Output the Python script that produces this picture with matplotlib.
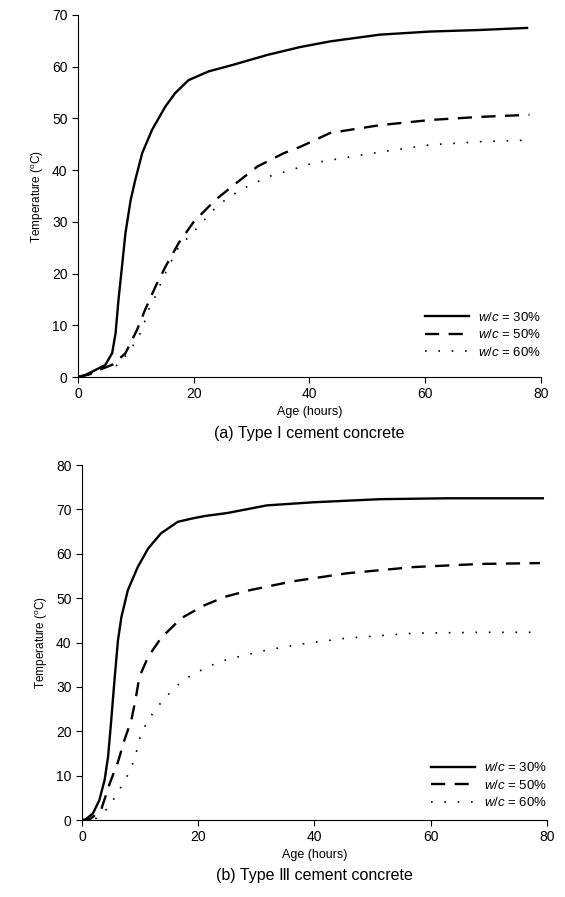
import matplotlib
matplotlib.use("Agg")
from matplotlib import pyplot as plt

plt.rcParams['font.family'] = ['Liberation Sans', 'DejaVu Sans']
plt.rcParams['mathtext.fontset'] = 'custom'
plt.rcParams['mathtext.it'] = 'Liberation Sans:italic'
plt.rcParams['mathtext.rm'] = 'Liberation Sans'

# (a) Type I cement concrete
a_x30 = [0, 1.3, 4.7, 5.9, 6.5, 7.0, 7.6, 8.2, 9.1, 9.9, 11.1, 12.8, 15.1, 16.8, 19.1, 22.6, 26.6,
         32.8, 38.4, 43.6, 52.2, 60.9, 69.5, 77.6]
a_y30 = [0, 0.4, 2.3, 4.6, 8.5, 14.9, 21.3, 27.8, 34.2, 38.1, 43.3, 47.8, 52.3, 54.9, 57.4, 59.1, 60.3,
         62.3, 63.8, 64.9, 66.2, 66.8, 67.1, 67.5]
a_x50 = [0, 2, 4.2, 6, 8.2, 10.2, 11.6, 13.4, 15.1, 17.4, 20, 23.7, 26.9, 31, 35.6, 38.4, 43.6,
         52.2, 60.9, 69.5, 78]
a_y50 = [0, 0.5, 1.6, 2.4, 4.6, 9.1, 13, 17.5, 21.3, 25.9, 30, 34.2, 37.1, 40.7, 43.3, 44.5, 47.2,
         48.7, 49.7, 50.3, 50.7]
a_x60 = [0, 2, 4, 7, 8.8, 10.2, 11.3, 11.9, 13.1, 14.8, 17.1, 19.1, 21.1, 23.1, 25.4, 28.1, 32.8,
         37.3, 40.7, 52.2, 60.9, 69.5, 78]
a_y60 = [0, 0.5, 1.8, 2.3, 4.9, 7.2, 9.7, 12.4, 14.9, 19.4, 24.6, 27.1, 29.4, 32, 34.2, 36.2, 38.7,
         40.2, 41.4, 43.5, 44.9, 45.5, 45.8]

# (b) Type III cement concrete
b_x30 = [0, 0.5, 1.9, 3.0, 3.9, 4.5, 5.0, 5.6, 6.2, 6.8, 7.9, 9.6, 11.4, 13.6, 16.5, 18.8, 21.1, 25.1,
         31.8, 39.8, 51.3, 62.8, 79.3]
b_y30 = [0, 0, 1.5, 4.5, 9, 14.3, 21.8, 31.5, 40.5, 45.8, 51.8, 57, 61.2, 64.6, 67.2, 67.9, 68.5, 69.2,
         70.9, 71.6, 72.3, 72.5, 72.5]
b_x50 = [0, 1.5, 3.3, 4.8, 6.2, 7.3, 8.5, 9.2, 9.9, 11.4, 13.6, 17.1, 21.1, 24.6, 28.9, 36.3, 45.6,
         57, 68.5, 78.8]
b_y50 = [0, 0.3, 2.3, 8.3, 13.1, 18, 22.5, 27, 32.3, 36.8, 41, 45.5, 48.4, 50.3, 51.8, 53.8, 55.6,
         57, 57.7, 57.9]
b_x60 = [0, 2.5, 4.5, 5.9, 7.1, 8.2, 9.1, 9.6, 10.2, 11.4, 12.8, 14.5, 16.8, 19.1, 21.4, 23.7, 26,
         31.8, 37.5, 45.6, 57, 68.5, 77.6]
b_y60 = [0, 0.4, 2.7, 5.6, 8.3, 10.9, 14, 16.5, 19.6, 22.5, 25.2, 27.8, 30.8, 32.9, 34.3, 35.7, 36.5,
         38.3, 39.6, 41, 42.1, 42.3, 42.3]

labels = ["$w/c$ = 30%", "$w/c$ = 50%", "$w/c$ = 60%"]
xticks = [0, 20, 40, 60, 80]

fig = plt.figure(figsize=(5.65, 8.97), dpi=100)
ax1 = fig.add_axes([0.138, 0.5797, 0.8195, 0.4036])
ax2 = fig.add_axes([0.145, 0.0858, 0.823, 0.3958])

panels = [
    (ax1, [(a_x30, a_y30), (a_x50, a_y50), (a_x60, a_y60)], 70, 0.05,
     "(a) Type \u2160 cement concrete"),
    (ax2, [(b_x30, b_y30), (b_x50, b_y50), (b_x60, b_y60)], 80, 0.03,
     "(b) Type \u2162 cement concrete"),
]

styles = [dict(linestyle='-', linewidth=1.7),
          dict(linestyle=(0, (6, 4)), linewidth=1.7),
          dict(linestyle=(0, (1, 7)), linewidth=1.2)]

for ax, series, ymax, leg_y, caption in panels:
    for (x, y), st, lab in zip(series, styles, labels):
        ax.plot(x, y, color='black', label=lab, solid_joinstyle='round',
                dash_joinstyle='round', **st)
    ax.set_xlim(0, 80)
    ax.set_ylim(0, ymax)
    ax.set_xticks(xticks)
    ax.set_yticks(range(0, ymax + 1, 10))
    ax.spines['top'].set_visible(False)
    ax.spines['right'].set_visible(False)
    ax.tick_params(direction='out', length=4, labelsize=10)
    ax.set_ylabel("Temperature ($^{\\rm o}$C)", fontsize=8.5)
    ax.set_xlabel("Age (hours)", fontsize=9, labelpad=3)
    ax.legend(loc='lower right', bbox_to_anchor=(1.0, leg_y), frameon=False, fontsize=9.5,
              handlelength=3.3, handletextpad=0.7, labelspacing=0.35, borderaxespad=0,
              borderpad=0)
    ax.text(0.5, -0.135, caption, transform=ax.transAxes, ha='center', va='top',
            fontsize=11.5, family=['Liberation Sans', 'DejaVu Sans', 'Noto Sans CJK SC'])

fig.savefig("out.png", dpi=100)
